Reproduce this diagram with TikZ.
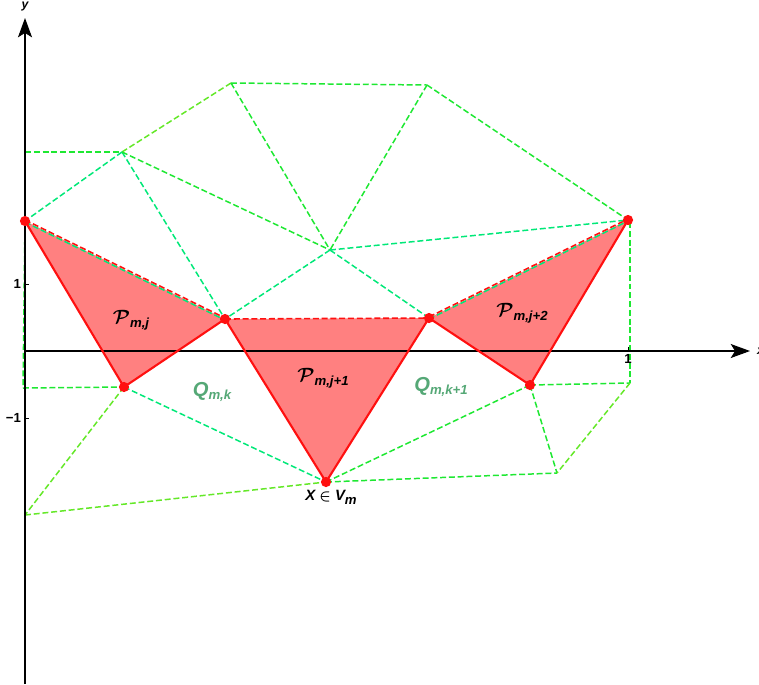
\documentclass[tikz,border=0pt]{standalone}
\usepackage{amsmath}
\usepackage{fontspec}
\setmainfont{Liberation Sans}
\usetikzlibrary{arrows.meta}
\definecolor{gg}{RGB}{30,232,50}
\definecolor{gs}{RGB}{0,232,120}
\definecolor{gy}{RGB}{100,232,40}
\definecolor{rline}{RGB}{255,16,16}
\definecolor{rfill}{RGB}{255,128,128}
\definecolor{qcol}{RGB}{85,168,118}
\newcommand{\subtxt}[1]{\raisebox{-2.2pt}{\fontsize{7.5}{9}\selectfont\bfseries\itshape #1}}
\newcommand{\calP}{$\boldsymbol{\mathcal{P}}$}
\tikzset{
  mesh/.style={dash pattern=on 3.4pt off 1.6pt, line width=0.85pt},
  redge/.style={draw=rline, line width=1.2pt, line join=round},
  rdash/.style={draw=rline, line width=0.9pt, dash pattern=on 3.4pt off 1.6pt},
  axisline/.style={draw=black, line width=0.6pt, -{Stealth[length=11pt,width=8pt,inset=2.5pt]}},
  reddot/.style={fill=rline},
  plabel/.style={font=\fontsize{10.5}{12}\selectfont},
  qlabel/.style={text=qcol, font=\fontsize{11.5}{13}\selectfont\bfseries\itshape},
  ticklabel/.style={font=\fontsize{7.5}{9}\selectfont\bfseries, inner sep=1pt}
}
\begin{document}
\begin{tikzpicture}[x=0.02cm,y=-0.02cm]
\useasboundingbox (0,0) rectangle (759,684);
% points
\coordinate (A) at (25,221);
\coordinate (B) at (124,387);
\coordinate (C) at (225,319);
\coordinate (D) at (326,482);
\coordinate (E) at (429,318);
\coordinate (F) at (530,385);
\coordinate (G) at (628,220);
\coordinate (H) at (122,152);
\coordinate (I) at (231,83);
\coordinate (J) at (427,85);
\coordinate (K) at (330,250);
\coordinate (L) at (25,152);
\coordinate (M) at (23,388);
\coordinate (N) at (25,515);
\coordinate (O) at (557,473);
\coordinate (P) at (630,383);
\coordinate (Gb) at (630,222);
% red fills
\fill[rfill] (A) -- (B) -- (C) -- cycle;
\fill[rfill] (C) -- (D) -- (E) -- cycle;
\fill[rfill] (E) -- (F) -- (G) -- cycle;
% red dashed top edges
\draw[rdash] ([yshift=0.6pt]A) -- ([yshift=0.6pt]C);
\draw[rdash] (C) -- (E);
\draw[rdash] ([yshift=0.6pt]E) -- ([yshift=0.6pt]G);
% green mesh
\draw[mesh, gg] (L) -- (H);
\draw[mesh, gy] (H) -- (I);
\draw[mesh, gg] (I) -- (J);
\draw[mesh, gg] (J) -- (G);
\draw[mesh, gs] (H) -- (A);
\draw[mesh, gs] (H) -- (C);
\draw[mesh, gg] (H) -- (K);
\draw[mesh, gg] (I) -- (K);
\draw[mesh, gg] (J) -- (K);
\draw[mesh, gs] (K) -- (G);
\draw[mesh, gs] (K) -- (C);
\draw[mesh, gs] (K) -- (E);
\draw[mesh, gs] ([yshift=-0.6pt]A) -- ([yshift=-0.6pt]C);
\draw[mesh, gs] ([yshift=-0.6pt]E) -- ([yshift=-0.6pt]G);
\draw[mesh, gg] (A) -- (M);
\draw[mesh, gg] (M) -- (B);
\draw[mesh, gy] (B) -- (N);
\draw[mesh, gs] (B) -- (D);
\draw[mesh, gy] (N) -- (D);
\draw[mesh, gg] (D) -- (F);
\draw[mesh, gg] (D) -- (O);
\draw[mesh, gg] (F) -- (O);
\draw[mesh, gg] (F) -- (P);
\draw[mesh, gy] (P) -- (O);
\draw[mesh, gg] (Gb) -- (P);
% axes
\coordinate (yb) at (25,684);
\coordinate (yt) at (25,18);
\coordinate (xl) at (25,351);
\coordinate (xr) at (750,351);
\draw[axisline] (yb) -- (yt);
\draw[axisline] (xl) -- (xr);
\node[font=\fontsize{7}{8}\selectfont\bfseries\itshape] (ylab) at (25,7) {y};
\node[font=\fontsize{7}{8}\selectfont\bfseries\itshape, anchor=west, inner sep=1pt] (xlab) at (755,351) {x};
% ticks
\coordinate (tx1) at (628,347);
\coordinate (tx2) at (628,351);
\draw[line width=0.5pt] (tx1) -- (tx2);
\node[ticklabel, anchor=north] (t1x) at (628,352) {1};
\coordinate (ty1a) at (25,284);
\coordinate (ty1b) at (29,284);
\draw[line width=0.5pt] (ty1a) -- (ty1b);
\node[ticklabel, anchor=east] (t1y) at (23,284) {1};
\coordinate (tym1a) at (25,418);
\coordinate (tym1b) at (29,418);
\draw[line width=0.5pt] (tym1a) -- (tym1b);
\node[ticklabel, anchor=east] (tm1y) at (23,418) {\textminus1};
% red solid edges
\draw[redge] (A) -- (B) -- (C) -- (D) -- (E) -- (F) -- (G);
% dots
\fill[reddot] (A) circle[radius=2.9pt];
\fill[reddot] (B) circle[radius=2.9pt];
\fill[reddot] (C) circle[radius=2.9pt];
\fill[reddot] (D) circle[radius=2.9pt];
\fill[reddot] (E) circle[radius=2.9pt];
\fill[reddot] (F) circle[radius=2.9pt];
\fill[reddot] (G) circle[radius=2.9pt];
% labels
\node[plabel] (lj) at (131,320) {\calP\subtxt{m,j}};
\node[plabel] (lj1) at (323,378) {\calP\subtxt{m,j+1}};
\node[plabel] (lj2) at (522,313) {\calP\subtxt{m,j+2}};
\node[qlabel] (qk) at (212,392) {Q\subtxt{m,k}};
\node[qlabel] (qk1) at (441,387) {Q\subtxt{m,k+1}};
\node[font=\fontsize{8.5}{10}\selectfont\bfseries\itshape] (xv) at (331,497) {X {\boldmath$\in$} V\subtxt{m}};
\end{tikzpicture}
\end{document}
